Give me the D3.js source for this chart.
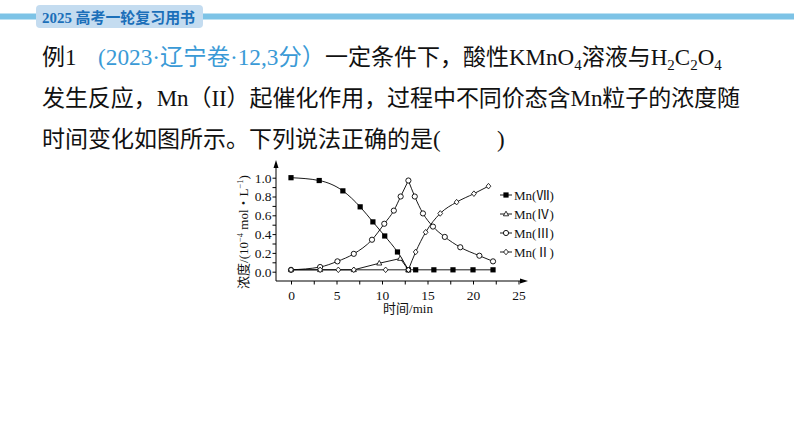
<!DOCTYPE html>
<html><head><meta charset="utf-8">
<script src="https://cdn.jsdelivr.net/npm/d3@7"></script>
<style>
html,body{margin:0;padding:0;background:#fff;}
svg{display:block;}
</style></head>
<body>
<svg id="c" width="794" height="447"></svg>
<script>
// ---------- data ----------
const seriesNames = ["Mn(Ⅶ)", "Mn(Ⅳ)", "Mn(Ⅲ)", "Mn(Ⅱ)"];
const timeVII = [0, 3.1, 5.7, 7.6, 9.0, 10.3, 11.7, 12.9, 13.7, 15.7, 17.8, 20.0, 22.2];
const valVII  = [1.0, 0.97, 0.86, 0.69, 0.53, 0.38, 0.21, 0.02, 0.02, 0.02, 0.02, 0.02, 0.02];
const timeIV  = [0, 3.2, 6.9, 9.7, 12.0, 12.9];
const valIV   = [0.02, 0.02, 0.02, 0.09, 0.14, 0.02];
const timeIII = [0, 3.2, 5.1, 6.9, 8.9, 10.25, 11.3, 12.05, 12.9, 13.6, 14.5, 15.6, 16.9, 18.6, 20.7, 22.2];
const valIII  = [0.02, 0.05, 0.11, 0.19, 0.34, 0.51, 0.65, 0.80, 0.97, 0.80, 0.62, 0.48, 0.37, 0.26, 0.17, 0.11];
const timeII  = [0, 3.2, 5.2, 6.9, 10.4, 12.9, 13.7, 14.8, 16.4, 18.2, 20.1, 21.7];
const valII   = [0.02, 0.02, 0.02, 0.02, 0.02, 0.02, 0.21, 0.42, 0.62, 0.74, 0.83, 0.91];
const switchTime = 12.9;
const xTickValues = [0, 5, 10, 15, 20, 25];
const yTickValues = [0.0, 0.2, 0.4, 0.6, 0.8, 1.0];
const xLabel = "时间/min";
const headerText = "2025 高考一轮复习用书";

// ---------- setup ----------
const svg = d3.select("#c");
const serif = "'Liberation Serif','Times New Roman','Noto Sans CJK SC',serif";
const mixed = "'Liberation Serif','Noto Sans CJK SC',serif";

// header
svg.append("rect").attr("x", 0).attr("y", 13.5).attr("width", 794).attr("height", 6).attr("fill", "#7dc3e6");
svg.append("rect").attr("x", 36).attr("y", 5).attr("width", 167).attr("height", 23).attr("rx", 4).attr("fill", "#c4dcf0");
svg.append("text").attr("x", 42).attr("y", 23).attr("font-family", mixed).attr("font-weight", "bold")
  .attr("font-size", 15).attr("fill", "#1b6fb9").attr("textLength", 153).attr("lengthAdjust", "spacingAndGlyphs")
  .text(headerText);

// question text
const fs = 23;
svg.append("text").attr("x", 42).attr("y", 65).attr("font-family", mixed).attr("font-size", fs).attr("fill", "#111").text("例1");
svg.append("text").attr("x", 98).attr("y", 65).attr("font-family", mixed).attr("font-size", fs).attr("fill", "#3a9ad6")
  .attr("textLength", 227).attr("lengthAdjust", "spacingAndGlyphs").text("(2023·辽宁卷·12,3分）");
const t1b = svg.append("text").attr("x", 325).attr("y", 65).attr("font-family", mixed).attr("font-size", fs).attr("fill", "#111");
t1b.append("tspan").text("一定条件下，酸性KMnO");
t1b.append("tspan").attr("font-size", 15).attr("dy", 5).text("4");
t1b.append("tspan").attr("dy", -5).text("溶液与H");
t1b.append("tspan").attr("font-size", 15).attr("dy", 5).text("2");
t1b.append("tspan").attr("dy", -5).text("C");
t1b.append("tspan").attr("font-size", 15).attr("dy", 5).text("2");
t1b.append("tspan").attr("dy", -5).text("O");
t1b.append("tspan").attr("font-size", 15).attr("dy", 5).text("4");

svg.append("text").attr("x", 42).attr("y", 106).attr("font-family", mixed).attr("font-size", fs).attr("fill", "#111")
  .attr("textLength", 698).attr("lengthAdjust", "spacing")
  .text("发生反应，Mn（II）起催化作用，过程中不同价态含Mn粒子的浓度随");
svg.append("text").attr("x", 42).attr("y", 147).attr("font-family", mixed).attr("font-size", fs).attr("fill", "#111")
  .text("时间变化如图所示。下列说法正确的是(");
svg.append("text").attr("x", 497).attr("y", 147).attr("font-family", mixed).attr("font-size", fs).attr("fill", "#111")
  .text(")");

// ---------- chart ----------
const x = d3.scaleLinear().domain([0, 25]).range([291, 518.5]);
const y = d3.scaleLinear().domain([0, 1]).range([271.7, 177.7]);
const axX = 276, axY = 281;
const g = svg.append("g").attr("font-family", serif).attr("fill", "#111");

// axes lines with arrows
g.append("line").attr("x1", axX).attr("y1", axY).attr("x2", axX).attr("y2", 163).attr("stroke", "#000").attr("stroke-width", 1);
g.append("path").attr("d", `M${axX - 2.5},${168} L${axX},${160} L${axX + 2.5},${168} Z`).attr("fill", "#000");
g.append("line").attr("x1", axX).attr("y1", axY).attr("x2", 525).attr("y2", axY).attr("stroke", "#000").attr("stroke-width", 1);
g.append("path").attr("d", `M${520},${axY - 2.5} L${528},${axY} L${520},${axY + 2.5} Z`).attr("fill", "#000");

// y ticks
const yAxis = d3.axisLeft(y).tickValues(d3.range(0, 1.05, 0.1)).tickSize(3.5)
  .tickFormat(d => yTickValues.some(v => Math.abs(v - d) < 1e-6) ? d3.format(".1f")(d) : "");
const ya = g.append("g").attr("transform", `translate(${axX},0)`).call(yAxis);
ya.select(".domain").remove();
ya.selectAll("text").attr("font-size", 13.5).attr("font-family", serif).attr("fill", "#111").attr("x", -4.5);
ya.selectAll("line").attr("stroke", "#000");

// x ticks
const xAxis = d3.axisBottom(x).tickValues(d3.range(0, 25.1, 2.5)).tickSize(3.5)
  .tickFormat(d => xTickValues.includes(d) ? String(d) : "");
const xa = g.append("g").attr("transform", `translate(0,${axY})`).call(xAxis);
xa.select(".domain").remove();
xa.selectAll("text").attr("font-size", 13.5).attr("font-family", serif).attr("fill", "#111").attr("dy", "0.9em");
xa.selectAll("line").attr("stroke", "#000");

// axis titles
g.append("text").attr("x", 408).attr("y", 313).attr("text-anchor", "middle").attr("font-size", 13).text(xLabel);
const yt = g.append("text").attr("transform", "translate(248,232) rotate(-90)").attr("text-anchor", "middle").attr("font-size", 13);
yt.append("tspan").text("浓度/(10");
yt.append("tspan").attr("font-size", 8.5).attr("dy", -5).text("−4");
yt.append("tspan").attr("dy", 5).text(" mol・L");
yt.append("tspan").attr("font-size", 8.5).attr("dy", -5).text("−1");
yt.append("tspan").attr("dy", 5).text(")");

// series
const series = [
  {name: seriesNames[0], t: timeVII, v: valVII, marker: "square", curve: d3.curveMonotoneX},
  {name: seriesNames[1], t: timeIV, v: valIV, marker: "triangle", curve: d3.curveLinear},
  {name: seriesNames[2], t: timeIII, v: valIII, marker: "circle", curve: d3.curveMonotoneX},
  {name: seriesNames[3], t: timeII, v: valII, marker: "diamond", curve: d3.curveMonotoneX}
];

function drawMarker(sel, type, cx, cy) {
  if (type === "square") {
    sel.append("rect").attr("x", cx - 2.6).attr("y", cy - 2.6).attr("width", 5.2).attr("height", 5.2).attr("fill", "#000");
  } else if (type === "circle") {
    sel.append("circle").attr("cx", cx).attr("cy", cy).attr("r", 2.6).attr("fill", "#fff").attr("stroke", "#000").attr("stroke-width", 0.9);
  } else if (type === "triangle") {
    sel.append("path").attr("d", `M${cx},${cy - 2.8} L${cx + 2.6},${cy + 1.8} L${cx - 2.6},${cy + 1.8} Z`)
      .attr("fill", "#fff").attr("stroke", "#000").attr("stroke-width", 0.8);
  } else {
    sel.append("path").attr("d", `M${cx},${cy - 2.8} L${cx + 2.4},${cy} L${cx},${cy + 2.8} L${cx - 2.4},${cy} Z`)
      .attr("fill", "#fff").attr("stroke", "#000").attr("stroke-width", 0.8);
  }
}

const lines = g.append("g");
const marks = g.append("g");
series.forEach(s => {
  const pts = s.t.map((t, i) => [t, s.v[i]]);
  const k = s.t.indexOf(switchTime);
  const segs = k > 0 ? [pts.slice(0, k + 1), pts.slice(k)] : [pts];
  segs.forEach(seg => {
    const lg = d3.line().x(d => x(d[0])).y(d => y(d[1])).curve(s.curve);
    lines.append("path").attr("d", lg(seg)).attr("fill", "none").attr("stroke", "#000").attr("stroke-width", 0.9);
  });
});
series.forEach(s => {
  s.t.forEach((t, i) => drawMarker(marks, s.marker, x(t), y(s.v[i])));
});

// legend
const leg = g.append("g");
series.forEach((s, i) => {
  const ly = 195 + i * 19;
  leg.append("line").attr("x1", 500).attr("x2", 512).attr("y1", ly).attr("y2", ly).attr("stroke", "#000").attr("stroke-width", 0.9);
  drawMarker(leg, s.marker, 506, ly);
  leg.append("text").attr("x", 514).attr("y", ly + 4.5).attr("font-size", 13).text(s.name);
});
</script>
</body></html>
